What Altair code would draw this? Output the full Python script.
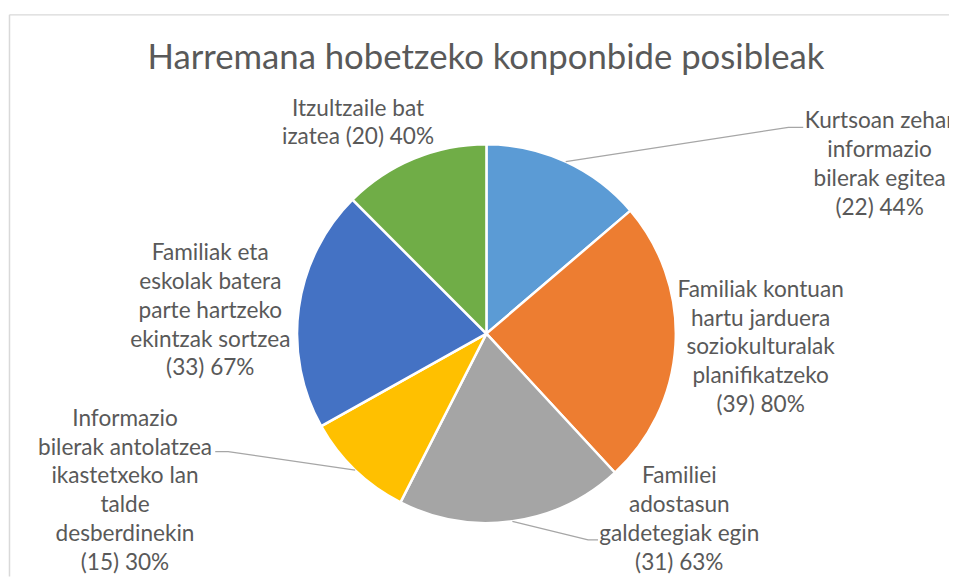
import math
import altair as alt
import pandas as pd

# ---------------- data ----------------
title_text = "Harremana hobetzeko konponbide posibleak"
categories = [
    "Kurtsoan zehar informazio bilerak egitea",
    "Familiak kontuan hartu jarduera soziokulturalak planifikatzeko",
    "Familiei adostasun galdetegiak egin",
    "Informazio bilerak antolatzea ikastetxeko lan talde desberdinekin",
    "Familiak eta eskolak batera parte hartzeko ekintzak sortzea",
    "Itzultzaile bat izatea",
]
counts = [22, 39, 31, 15, 33, 20]
percents = [44, 80, 63, 30, 67, 40]

# ---------------- styling / layout ----------------
colors = ["#5B9BD5", "#ED7D31", "#A5A5A5", "#FFC000", "#4472C4", "#70AD47"]
label_lines = [
    ["Kurtsoan zehar", "informazio", "bilerak egitea"],
    ["Familiak kontuan", "hartu jarduera", "soziokulturalak", "planifikatzeko"],
    ["Familiei", "adostasun", "galdetegiak egin"],
    ["Informazio", "bilerak antolatzea", "ikastetxeko lan", "talde", "desberdinekin"],
    ["Familiak eta", "eskolak batera", "parte hartzeko", "ekintzak sortzea"],
    ["Itzultzaile bat", "izatea"],
]
value_same_line = [False, False, False, False, False, True]
OFF = 8  # page margin
label_cx = [887, 767, 685, 126, 212, 361]
label_y1 = [120, 290, 478, 420, 253, 107]   # centre of first line
# leader-line elbows (None = no leader line)
leader_elbows = [
    [(795, 126), (810, 126)],
    None,
    [(593, 542), (603, 542)],
    [(230, 453), (217, 453)],
    None,
    None,
]
CX, CY, R = 490.5 - OFF, 334 - OFF, 191
W, H = 949, 571
TEXT_COLOR = "#595959"
FONT = "Lato"

# ---------------- tables ----------------
texts = []
for i in range(len(categories)):
    lines = list(label_lines[i])
    val = f"({counts[i]}) {percents[i]}%"
    if value_same_line[i]:
        lines[-1] = lines[-1] + " " + val
    else:
        lines.append(val)
    texts.append("\n".join(lines))

df = pd.DataFrame({
    "idx": list(range(len(categories))),
    "category": categories,
    "count": counts,
    "label": texts,
    "lx": [v - OFF for v in label_cx],
    "ly": [v - OFF for v in label_y1],
})

total = sum(counts)
lead_rows = []
cum = 0
for i, c in enumerate(counts):
    mid = (cum + c / 2) / total * 2 * math.pi
    cum += c
    if leader_elbows[i] is None:
        continue
    sx = CX + R * math.sin(mid)
    sy = CY - R * math.cos(mid)
    pts = [(sx, sy)] + [(x - OFF, y - OFF) for x, y in leader_elbows[i]]
    for k, (x, y) in enumerate(pts):
        lead_rows.append({"lead": i, "k": k, "x": x, "y": y})
lead_df = pd.DataFrame(lead_rows)

# ---------------- layers ----------------
one = pd.DataFrame({"t": [title_text]})

frame_top = alt.Chart(one).mark_rule(color="#D9D9D9", strokeWidth=1.5).encode(
    x=alt.value(1.5), x2=alt.value(W), y=alt.value(4.5)
)
frame_left = alt.Chart(one).mark_rule(color="#D9D9D9", strokeWidth=1.5).encode(
    x=alt.value(1.5), y=alt.value(4.5), y2=alt.value(H)
)

title = alt.Chart(one).mark_text(
    font=FONT, fontSize=35, color=TEXT_COLOR, align="center", baseline="alphabetic"
).encode(text="t:N", x=alt.value(490 - OFF), y=alt.value(67 - OFF))

pie = alt.Chart(df).mark_arc(outerRadius=R, stroke="white", strokeWidth=2.5).encode(
    theta=alt.Theta("count:Q", stack=True),
    order=alt.Order("idx:Q"),
    color=alt.Color("category:N", scale=alt.Scale(domain=categories, range=colors), legend=None),
    x=alt.value(CX),
    y=alt.value(CY),
)

leaders = alt.Chart(lead_df).mark_line(color="#A6A6A6", strokeWidth=1.3).encode(
    x=alt.X("x:Q", scale=None, axis=None),
    y=alt.Y("y:Q", scale=None, axis=None),
    detail="lead:N",
    order="k:Q",
)

labels = alt.Chart(df).mark_text(
    font=FONT, fontSize=22.8, color=TEXT_COLOR, align="center", baseline="middle",
    lineBreak="\n", lineHeight=29,
).encode(
    x=alt.X("lx:Q", scale=None, axis=None),
    y=alt.Y("ly:Q", scale=None, axis=None),
    text="label:N",
)

chart = alt.layer(frame_top, frame_left, title, pie, leaders, labels).properties(
    width=W, height=H, padding=0,
    autosize=alt.AutoSizeParams(type="none"),
).configure_view(stroke=None)

chart.save("out.html", embed_options={"renderer": "svg", "actions": False})
